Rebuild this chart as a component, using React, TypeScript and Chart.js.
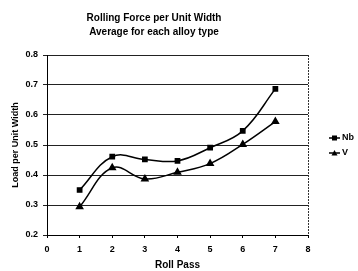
import React, { useEffect, useRef } from "react";
import { Chart, registerables } from "chart.js";

Chart.register(...registerables);

const rollPass = [1, 2, 3, 4, 5, 6, 7];
const nbLoad = [0.35, 0.461, 0.452, 0.447, 0.491, 0.547, 0.687];
const vLoad = [0.294, 0.424, 0.387, 0.409, 0.438, 0.502, 0.578];
const seriesNames = ["Nb", "V"];
const titleLines = ["Rolling Force per Unit Width", "Average for each alloy type"];
const xTitle = "Roll Pass";
const yTitle = "Load per Unit Width";

const FONT = "'Liberation Sans', Arial, sans-serif";

export default function App() {
  const ref = useRef<HTMLCanvasElement | null>(null);

  useEffect(() => {
    document.body.style.margin = "0";
    const canvas = ref.current!;
    const legendPlugin = {
      id: "customLegend",
      afterDraw(chart: any) {
        const ctx = chart.ctx;
        const area = chart.chartArea;
        ctx.save();
        // dashed right border
        ctx.strokeStyle = "#333";
        ctx.lineWidth = 1;
        ctx.setLineDash([2, 1]);
        ctx.beginPath();
        ctx.moveTo(Math.round(area.right) + 0.5, area.top);
        ctx.lineTo(Math.round(area.right) + 0.5, area.bottom);
        ctx.stroke();
        ctx.setLineDash([]);
        const ys = [138, 153];
        chart.data.datasets.forEach((ds: any, i: number) => {
          const y = ys[i];
          const x0 = 329;
          const x1 = 340;
          ctx.strokeStyle = "#000";
          ctx.lineWidth = 1.5;
          ctx.beginPath();
          ctx.moveTo(x0, y);
          ctx.lineTo(x1, y);
          ctx.stroke();
          ctx.fillStyle = "#000";
          const cx = (x0 + x1) / 2;
          if (ds.pointStyle === "rect") {
            ctx.fillRect(cx - 2.5, y - 2.5, 5, 5);
          } else {
            ctx.beginPath();
            ctx.moveTo(cx, y - 3);
            ctx.lineTo(cx + 3, y + 2.5);
            ctx.lineTo(cx - 3, y + 2.5);
            ctx.closePath();
            ctx.fill();
          }
          ctx.font = `bold 9px ${FONT}`;
          ctx.textAlign = "left";
          ctx.textBaseline = "middle";
          ctx.fillText(ds.label, x1 + 2, y);
        });
        ctx.restore();
      },
    };

    const chart = new Chart(canvas, {
      type: "line",
      data: {
        datasets: [
          {
            label: seriesNames[0],
            data: rollPass.map((x, i) => ({ x, y: nbLoad[i] })),
            borderColor: "#000",
            backgroundColor: "#000",
            borderWidth: 1.5,
            pointStyle: "rect",
            pointRadius: 3,
            tension: 0.4,
          },
          {
            label: seriesNames[1],
            data: rollPass.map((x, i) => ({ x, y: vLoad[i] })),
            borderColor: "#000",
            backgroundColor: "#000",
            borderWidth: 1.5,
            pointStyle: "triangle",
            pointRadius: 3.5,
            tension: 0.4,
          },
        ],
      },
      options: {
        animation: false,
        responsive: false,
        layout: { padding: { left: 0, right: 50, top: 0, bottom: 0 } },
        plugins: {
          legend: { display: false },
          tooltip: { enabled: false },
          title: {
            display: true,
            text: titleLines,
            color: "#000",
            font: { family: FONT, size: 10, weight: "bold", lineHeight: 1.4 },
            padding: { top: 11, bottom: 16 },
          },
        },
        scales: {
          x: {
            type: "linear",
            min: 0,
            max: 8,
            afterFit(scale: any) {
              scale.height = 36;
            },
            ticks: {
              stepSize: 1,
              color: "#000",
              font: { family: FONT, size: 9, weight: "bold" },
              padding: 6,
              maxRotation: 0,
            },
            grid: { drawOnChartArea: false, drawTicks: true, tickLength: 3, color: "#000" },
            border: { color: "#000", width: 1 },
            title: {
              display: true,
              text: xTitle,
              color: "#000",
              font: { family: FONT, size: 10, weight: "bold" },
              padding: { top: 0, bottom: 0 },
            },
          },
          y: {
            min: 0.2,
            max: 0.8,
            afterFit(scale: any) {
              scale.width = 47;
            },
            ticks: {
              stepSize: 0.1,
              color: "#000",
              font: { family: FONT, size: 9, weight: "bold" },
              padding: 5,
              callback: (v: any) => Number(v).toFixed(1),
            },
            grid: { color: "#222", lineWidth: 1, drawTicks: true, tickLength: 4 },
            border: { color: "#000", width: 1 },
            title: {
              display: true,
              text: yTitle,
              color: "#000",
              font: { family: FONT, size: 9, weight: "bold" },
              padding: { top: 10, bottom: 0 },
            },
          },
        },
      },
      plugins: [legendPlugin],
    } as any);
    return () => chart.destroy();
  }, []);

  return <canvas ref={ref} width={358} height={271} style={{ display: "block" }} />;
}
